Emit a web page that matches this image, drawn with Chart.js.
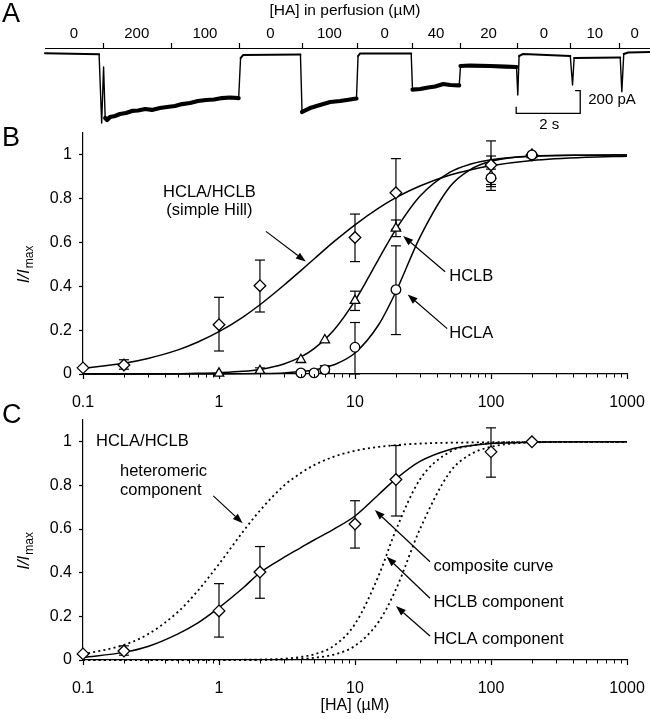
<!DOCTYPE html>
<html><head><meta charset="utf-8">
<script src="https://cdn.jsdelivr.net/npm/chart.js@4.4.1/dist/chart.umd.min.js"></script>
<style>
html,body{margin:0;padding:0;background:#fff;width:650px;height:719px;overflow:hidden}
canvas{position:absolute;left:0}
</style></head><body>
<canvas id="cA" width="650" height="135" style="top:0px"></canvas>
<canvas id="cB" width="650" height="285" style="top:125px"></canvas>
<canvas id="cC" width="650" height="324" style="top:395px"></canvas>
<script>
// ---------------- Panel A : current trace ----------------
const traceTime = [0, 1.69, 1.77, 1.83, 1.88, 1.94, 2.03, 2.19, 2.34, 2.53, 2.72, 2.91, 3.13, 3.34, 3.59, 3.81, 4.06, 4.28, 4.53, 4.78, 5.03, 5.28, 5.53, 5.78, 6.05, 6.11, 6.19, 7.98, 8.03, 8.28, 8.59, 8.91, 9.22, 9.53, 9.73, 9.78, 9.84, 11.44, 11.48, 11.72, 11.97, 12.19, 12.44, 12.66, 12.94, 12.98, 13.28, 13.91, 14.38, 14.73, 14.77, 14.81, 14.94, 16.41, 16.48, 16.53, 17.97, 18.02, 18.08, 18.22, 18.91];
const traceCurrent = [7, -2, -608, -114, -564, -582, -555, -546, -529, -520, -502, -498, -485, -493, -476, -467, -458, -441, -432, -414, -405, -401, -388, -383, -388, -35, -8, -4, -511, -476, -450, -423, -414, -401, -392, -17, 5, 5, -313, -308, -295, -286, -264, -273, -277, -105, -101, -105, -110, -114, -361, -17, 1, -17, -273, -35, -30, -332, 1, 14, 18];
const perfusionEdges = [1.80, 3.93, 6.06, 8.03, 9.74, 11.48, 12.95, 14.76, 16.41, 17.94];
const perfusionConc = ['0', '200', '100', '0', '100', '0', '40', '20', '0', '10', '0'];
const scaleBarTime = [14.72, 14.72, 16.72, 16.72, 16.56];
const scaleBarCurrent = [-465, -523, -523, -323, -323];

// ---------------- Panels B & C : concentration-response ----------------
const xTickValues = [0.1,0.2,0.3,0.4,0.5,0.6,0.7,0.8,0.9,1,2,3,4,5,6,7,8,9,10,20,30,40,50,60,70,80,90,100,200,300,400,500,600,700,800,900,1000];
const yTickValues = [0, 0.2, 0.4, 0.6, 0.8, 1];

const concHill = [0.1, 0.2, 1, 2, 10, 20, 100, 200];
const hillMean = [0.028, 0.041, 0.225, 0.403, 0.623, 0.827, 0.954, 1.0];
const hillLow  = [null, 0.022, 0.105, 0.283, 0.513, 0.66, 0.838, null];
const hillHigh = [null, 0.065, 0.35, 0.52, 0.73, 0.983, 1.064, null];

const concHCLB = [1, 2, 4, 6, 10, 20, 100, 200];
const hclbMean = [0.003, 0.015, 0.065, 0.155, 0.335, 0.665, 0.905, 1.0];
const hclbLow  = [null, 0.005, null, null, 0.29, 0.627, 0.865, null];
const hclbHigh = [null, 0.028, null, null, 0.378, 0.703, 0.995, null];

const concHCLA = [4, 5, 6, 10, 20, 100, 200];
const hclaMean = [0.005, 0.005, 0.02, 0.122, 0.385, 0.895, 1.0];
const hclaLow  = [null, null, 0.005, 0.0, 0.18, 0.855, null];
const hclaHigh = [null, null, 0.038, 0.235, 0.585, 0.935, null];

const fitConc = [0.1, 0.2, 0.3, 0.5, 0.7, 1, 1.5, 2, 3, 4, 5, 7, 10, 15, 20, 30, 50, 70, 100, 200, 500, 1000];
const fitHill = [0.026, 0.049, 0.071, 0.110, 0.146, 0.193, 0.260, 0.316, 0.405, 0.472, 0.525, 0.604, 0.681, 0.758, 0.805, 0.858, 0.908, 0.931, 0.950, 0.974, 0.989, 0.994];
const fitHCLB = [0, 0, 0, 0.0015, 0.003, 0.006, 0.012, 0.021, 0.046, 0.078, 0.116, 0.201, 0.335, 0.527, 0.66, 0.811, 0.921, 0.957, 0.978, 0.994, 0.999, 1.0];
const fitHCLA = [0, 0, 0, 0, 0, 0.0003, 0.001, 0.002, 0.005, 0.011, 0.018, 0.042, 0.096, 0.227, 0.376, 0.624, 0.856, 0.932, 0.971, 0.995, 0.999, 1.0];

const compComposite   = [0.012, 0.035, 0.062, 0.12, 0.17, 0.24, 0.33, 0.40, 0.47, 0.515, 0.55, 0.60, 0.66, 0.76, 0.83, 0.91, 0.965, 0.982, 0.992, 0.998, 1.0, 1.0];
const compHeteromeric = [0.026, 0.069, 0.118, 0.221, 0.318, 0.44, 0.588, 0.685, 0.799, 0.857, 0.893, 0.932, 0.959, 0.977, 0.985, 0.992, 0.996, 0.997, 0.998, 0.999, 1.0, 1.0];
const compHCLB = [0, 0, 0, 0, 0, 0, 0.001, 0.002, 0.006, 0.014, 0.026, 0.065, 0.165, 0.39, 0.596, 0.827, 0.955, 0.982, 0.994, 0.999, 1.0, 1.0];
const compHCLA = [0, 0, 0, 0, 0, 0, 0, 0, 0.002, 0.005, 0.01, 0.025, 0.065, 0.177, 0.324, 0.599, 0.862, 0.941, 0.977, 0.997, 1.0, 1.0];

// ---------------- helpers ----------------
const FONT = '"Liberation Sans", Arial, Helvetica, sans-serif';
Chart.defaults.font.family = FONT;
Chart.defaults.font.size = 16;
Chart.defaults.color = '#000';

function pts(xs, ys) { return xs.map((x, i) => ({x: x, y: ys[i]})); }
function isDecade(v) { const l = Math.log10(v); return Math.abs(l - Math.round(l)) < 1e-6; }

function markerDS(xs, ys, style, r) {
  return { data: pts(xs, ys), showLine: false, pointStyle: style, pointRadius: r, pointHoverRadius: r,
    pointBackgroundColor: '#fff', pointBorderColor: '#000', pointBorderWidth: 1.3, clip: false, order: 0 };
}
function errorDS(xs, lo, hi) {
  const out = [];
  xs.forEach((x, i) => {
    if (lo[i] === null || hi[i] === null) return;
    out.push({ data: [{x: x, y: lo[i]}, {x: x, y: hi[i]}], showLine: true, borderColor: '#000', borderWidth: 1.2,
      pointStyle: 'line', pointRadius: 5, pointHoverRadius: 5, pointBorderColor: '#000', pointBorderWidth: 1.2,
      clip: false, order: 1 });
  });
  return out;
}
function curveDS(xs, ys, dotted) {
  return { data: pts(xs, ys), showLine: true, borderColor: '#000', borderWidth: dotted ? 1.8 : 1.5,
    borderDash: dotted ? [2, 3.2] : [], pointRadius: 0, pointHoverRadius: 0, cubicInterpolationMode: 'monotone',
    clip: false, order: 2 };
}
function drawArrow(ctx, x0, y0, x1, y1) {
  const a = Math.atan2(y1 - y0, x1 - x0);
  const L = 10, W = 3.6;
  const bx = x1 - L * Math.cos(a), by = y1 - L * Math.sin(a);
  ctx.lineWidth = 1.2;
  ctx.beginPath(); ctx.moveTo(x0, y0); ctx.lineTo(bx, by); ctx.stroke();
  ctx.beginPath(); ctx.moveTo(x1, y1);
  ctx.lineTo(bx + W * Math.sin(a), by - W * Math.cos(a));
  ctx.lineTo(bx - W * Math.sin(a), by + W * Math.cos(a));
  ctx.closePath(); ctx.fill();
}
function drawYTitle(ctx, cx, cy) {
  ctx.save();
  ctx.translate(cx, cy);
  ctx.rotate(-Math.PI / 2);
  ctx.textAlign = 'left'; ctx.textBaseline = 'alphabetic';
  ctx.font = 'italic 17px ' + FONT; const w1 = ctx.measureText('I/I').width;
  ctx.font = '12px ' + FONT; const w2 = ctx.measureText('max').width;
  const start = -(w1 + w2 + 1) / 2;
  ctx.font = 'italic 17px ' + FONT; ctx.fillText('I/I', start, 0);
  ctx.font = '12px ' + FONT; ctx.fillText('max', start + w1 + 1, 4);
  ctx.restore();
}

function logAxes(xHeight) {
  return {
    x: { type: 'logarithmic', position: 'bottom', min: 0.1, max: 1000,
      afterBuildTicks: s => { s.ticks = xTickValues.map(v => ({value: v, major: isDecade(v)})); },
      afterFit: s => { s.height = xHeight; s.paddingLeft = 0; s.paddingRight = 0; s.paddingTop = 0; s.paddingBottom = 0; },
      ticks: { autoSkip: false, maxRotation: 0, minRotation: 0, padding: 14, color: '#000', font: {size: 16},
        callback: (v, i, t) => (t[i] && t[i].major) ? String(v) : '' },
      grid: { drawOnChartArea: false, tickLength: 5, tickWidth: 1.2,
        tickColor: c => (c.tick && c.tick.major) ? '#000' : 'rgba(0,0,0,0)' },
      border: { color: '#000', width: 1.2 } },
    y: { type: 'linear', min: 0, max: 1.1,
      afterBuildTicks: s => { s.ticks = yTickValues.map(v => ({value: v})); },
      afterFit: s => { s.width = 83; s.paddingTop = 0; s.paddingBottom = 0; s.paddingLeft = 0; s.paddingRight = 0; },
      ticks: { padding: 7, color: '#000', font: {size: 16}, callback: v => String(Math.round(v * 10) / 10) },
      grid: { drawOnChartArea: false, tickLength: 4, tickWidth: 1.2, tickColor: '#000' },
      border: { color: '#000', width: 1.2 } }
  };
}

function panelPlugin(id, letter, letterBaseline, texts, arrows, xTitleY) {
  return {
    id: id,
    afterDraw(chart) {
      const ctx = chart.ctx, x = chart.scales.x, y = chart.scales.y, ca = chart.chartArea;
      ctx.save();
      ctx.fillStyle = '#000'; ctx.strokeStyle = '#000';
      ctx.lineWidth = 1;
      x.ticks.forEach(t => {
        if (t.major) return;
        const px = Math.round(x.getPixelForValue(t.value)) + 0.5;
        ctx.beginPath(); ctx.moveTo(px, ca.bottom); ctx.lineTo(px, ca.bottom + 3.5); ctx.stroke();
      });
      ctx.font = '27px ' + FONT; ctx.textAlign = 'left'; ctx.textBaseline = 'alphabetic';
      ctx.fillText(letter, 2, letterBaseline);
      drawYTitle(ctx, 29, y.getPixelForValue(0.5));
      ctx.font = '16.5px ' + FONT; ctx.textBaseline = 'middle';
      texts.forEach(t => { ctx.textAlign = t.align || 'left'; ctx.fillText(t.text, x.getPixelForValue(t.x), y.getPixelForValue(t.y)); });
      arrows.forEach(a => drawArrow(ctx, x.getPixelForValue(a.x0), y.getPixelForValue(a.y0), x.getPixelForValue(a.x1), y.getPixelForValue(a.y1)));
      if (xTitleY) {
        ctx.font = '16px ' + FONT; ctx.textAlign = 'center'; ctx.textBaseline = 'middle';
        ctx.fillText('[HA] (µM)', (ca.left + ca.right) / 2, xTitleY);
      }
      ctx.restore();
    }
  };
}

const baseOptions = (padTop, axes) => ({
  responsive: false, animation: false, events: [],
  layout: { padding: { left: 0, right: 23, top: padTop, bottom: 0 } },
  plugins: { legend: { display: false }, tooltip: { enabled: false } },
  scales: axes
});

// ---------------- Chart A ----------------
const panelAPlugin = {
  id: 'panelA',
  afterDraw(chart) {
    const ctx = chart.ctx, x = chart.scales.x, y = chart.scales.y;
    ctx.save();
    ctx.fillStyle = '#000'; ctx.strokeStyle = '#000';
    ctx.font = '27px ' + FONT; ctx.textAlign = 'left'; ctx.textBaseline = 'alphabetic';
    ctx.fillText('A', 2, 22);
    ctx.font = '15.5px ' + FONT; ctx.textAlign = 'center'; ctx.textBaseline = 'middle';
    ctx.fillText('[HA] in perfusion (µM)', 345, 11);
    const lineY = 48.5;
    const x0 = x.getPixelForValue(x.min), x1 = x.getPixelForValue(x.max);
    ctx.lineWidth = 1.2;
    ctx.beginPath(); ctx.moveTo(x0, lineY); ctx.lineTo(x1, lineY); ctx.stroke();
    perfusionEdges.forEach(t => {
      const px = Math.round(x.getPixelForValue(t)) + 0.5;
      ctx.beginPath(); ctx.moveTo(px, lineY); ctx.lineTo(px, lineY - 5.5); ctx.stroke();
    });
    const bounds = [x.min].concat(perfusionEdges, [x.max]);
    ctx.font = '15px ' + FONT;
    perfusionConc.forEach((lab, i) => {
      const px = (x.getPixelForValue(bounds[i]) + x.getPixelForValue(bounds[i + 1])) / 2;
      ctx.fillText(lab, px, 34);
    });
    ctx.textAlign = 'left';
    ctx.fillText('200 pA', x.getPixelForValue(16.97), y.getPixelForValue(-405));
    ctx.textAlign = 'center';
    ctx.fillText('2 s', x.getPixelForValue(15.75), y.getPixelForValue(-626));
    ctx.restore();
  }
};

new Chart(document.getElementById('cA'), {
  type: 'line',
  data: { datasets: [
    { data: pts(traceTime, traceCurrent), borderColor: '#000', borderWidth: 2, pointRadius: 0, pointHoverRadius: 0,
      tension: 0, clip: false, borderJoinStyle: 'round', borderCapStyle: 'round',
      segment: { borderWidth: c => {
        const a = c.p0.parsed, b = c.p1.parsed;
        const dt = Math.abs(b.x - a.x) || 1e-6;
        if (Math.abs(b.y - a.y) / dt > 1500) return 1.4;
        return (Math.abs(a.y) + Math.abs(b.y)) / 2 > 60 ? 4.2 : 2;
      } } },
    { data: pts(scaleBarTime, scaleBarCurrent), borderColor: '#000', borderWidth: 1.3, pointRadius: 0, pointHoverRadius: 0, clip: false }
  ] },
  options: {
    responsive: false, animation: false, events: [],
    layout: { padding: { left: 45, right: 0, top: 0, bottom: 5 } },
    plugins: { legend: { display: false }, tooltip: { enabled: false } },
    scales: { x: { type: 'linear', min: 0, max: 18.9, display: false },
              y: { type: 'linear', min: -670, max: 477.3, display: false } }
  },
  plugins: [panelAPlugin]
});

// ---------------- Chart B ----------------
const textsB = [
  {text: 'HCLA/HCLB', x: 0.85, y: 0.827, align: 'center'},
  {text: '(simple Hill)', x: 0.85, y: 0.746, align: 'center'},
  {text: 'HCLB', x: 49.3, y: 0.444},
  {text: 'HCLA', x: 49.3, y: 0.184}
];
const arrowsB = [
  {x0: 2.215, y0: 0.651, x1: 4.345, y1: 0.513},
  {x0: 46.0, y0: 0.467, x1: 22.6, y1: 0.63},
  {x0: 47.6, y0: 0.207, x1: 24.4, y1: 0.363}
];
new Chart(document.getElementById('cB'), {
  type: 'line',
  data: { datasets: [
    markerDS(concHCLA, hclaMean, 'circle', 4.8),
    markerDS(concHCLB, hclbMean, 'triangle', 5.5),
    markerDS(concHill, hillMean, 'rectRot', 5.8)
  ].concat(errorDS(concHill, hillLow, hillHigh), errorDS(concHCLB, hclbLow, hclbHigh), errorDS(concHCLA, hclaLow, hclaHigh),
    [curveDS(fitConc, fitHill, false), curveDS(fitConc, fitHCLB, false), curveDS(fitConc, fitHCLA, false)]) },
  options: baseOptions(8, logAxes(36)),
  plugins: [panelPlugin('panelB', 'B', 21, textsB, arrowsB, null)]
});

// ---------------- Chart C ----------------
const textsC = [
  {text: 'HCLA/HCLB', x: 0.1247, y: 1.0},
  {text: 'heteromeric', x: 0.187, y: 0.866},
  {text: 'component', x: 0.187, y: 0.779},
  {text: 'composite curve', x: 37.7, y: 0.431},
  {text: 'HCLB component', x: 37.7, y: 0.266},
  {text: 'HCLA component', x: 37.7, y: 0.092}
];
const arrowsC = [
  {x0: 0.908, y0: 0.752, x1: 1.493, y1: 0.627},
  {x0: 35.6, y0: 0.4505, x1: 14.0, y1: 0.687},
  {x0: 35.6, y0: 0.283, x1: 17.1, y1: 0.473},
  {x0: 35.6, y0: 0.110, x1: 20.0, y1: 0.247}
];
new Chart(document.getElementById('cC'), {
  type: 'line',
  data: { datasets: [
    markerDS(concHill, hillMean, 'rectRot', 5.8)
  ].concat(errorDS(concHill, hillLow, hillHigh),
    [curveDS(fitConc, compComposite, false), curveDS(fitConc, compHeteromeric, true),
     curveDS(fitConc, compHCLB, true), curveDS(fitConc, compHCLA, true)]) },
  options: baseOptions(25, logAxes(59)),
  plugins: [panelPlugin('panelC', 'C', 28, textsC, arrowsC, 311)]
});
</script>
</body></html>
